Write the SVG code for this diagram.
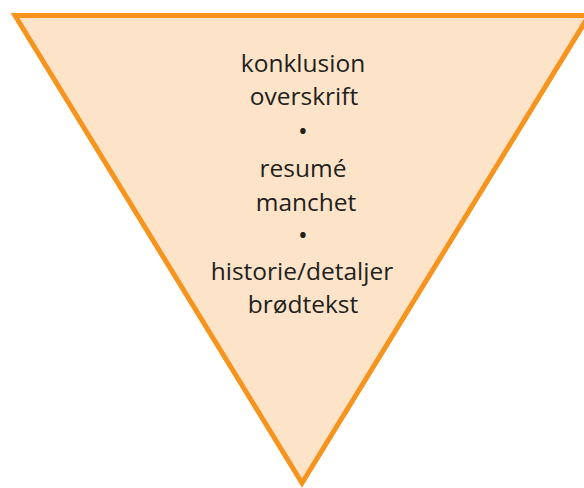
<svg xmlns="http://www.w3.org/2000/svg" width="584" height="488" viewBox="0 0 584 488">
<style>
.t{font-family:"Open Sans","Liberation Sans",sans-serif;font-size:24.5px;fill:#231f20;text-anchor:middle}
.b{font-size:26px}
</style>
<rect width="584" height="488" fill="#ffffff"/>
<g id="triangle">
<polygon points="15,15.5 589,15.5 302,483" fill="#fde4c9" stroke="#f7941d" stroke-width="5" stroke-linejoin="miter"/>
</g>
<g id="labels">
<text class="t" x="303" y="72">konklusion</text>
<text class="t" x="304" y="105">overskrift</text>
<text class="t b" x="303" y="140">•</text>
<text class="t" x="303" y="177">resumé</text>
<text class="t" x="306" y="211">manchet</text>
<text class="t b" x="303" y="244">•</text>
<text class="t" x="302" y="280">historie/detaljer</text>
<text class="t" x="303" y="313">brødtekst</text>
</g>
</svg>
